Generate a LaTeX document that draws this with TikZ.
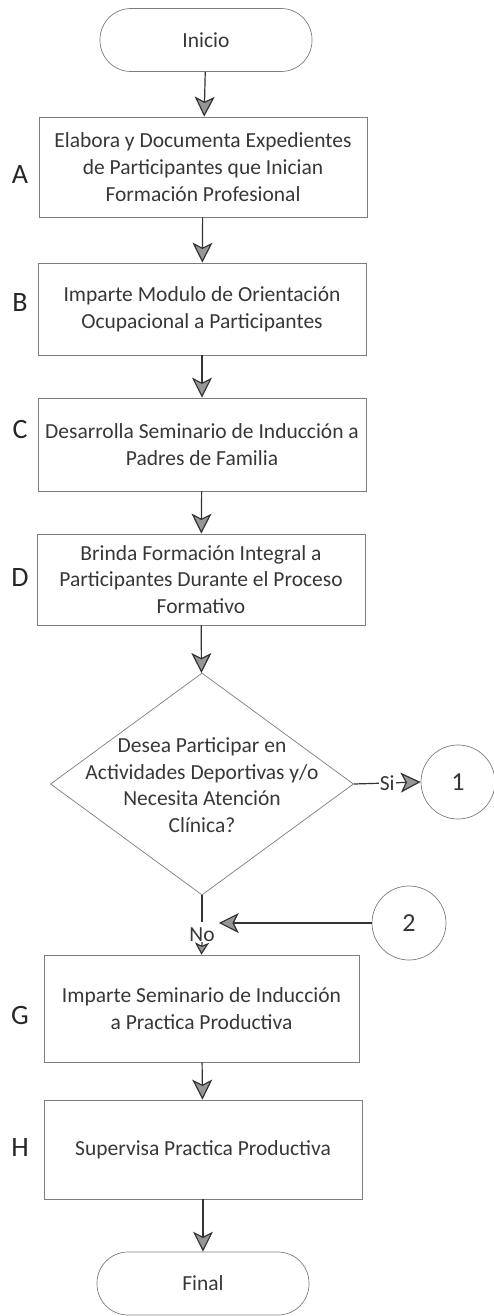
\documentclass[tikz,border=0pt]{standalone}
\usepackage{fontspec}
\setmainfont{Carlito}
\usetikzlibrary{arrows.meta,shapes.geometric}
\definecolor{linegray}{RGB}{125,125,125}
\definecolor{headgray}{RGB}{150,150,150}
\definecolor{txtgray}{RGB}{55,55,55}

\begin{document}
\begin{tikzpicture}[x=1pt,y=-1pt,
        proc/.style={draw=linegray,line width=0.7pt,rectangle,align=center,text=txtgray,font=\fontsize{21.5}{26.7}\selectfont},
        term/.style={draw=linegray,line width=0.7pt,rounded corners=31pt,minimum width=212pt,minimum height=63pt,text=txtgray,font=\fontsize{21.5}{26.7}\selectfont},
        conn/.style={draw=linegray,line width=0.7pt,circle,minimum size=74pt,text=txtgray,font=\fontsize{26}{30}\selectfont},
        flow/.style={-{Stealth[width=20pt,length=20pt,inset=5pt,fill=headgray]},draw=black!80,line width=1.2pt},
        flowshort/.style={-{Stealth[width=14pt,length=12pt,inset=3pt,fill=headgray]},draw=black!80,line width=1.2pt},
        letter/.style={text=black!85,font=\fontsize{28}{30}\selectfont}]
        \useasboundingbox (0,0) rectangle (494,1316);
        \def\fsize{\fontsize{21.5}{26.7}\selectfont}

        \node[term] (inicio) at (206,40) {Inicio};
        \node[proc,minimum width=328pt,minimum height=100pt] (a) at (203,167) {Elabora y Documenta Expedientes\\de Participantes que Inician\\Formación Profesional};
        \node[proc,minimum width=328pt,minimum height=92pt] (b) at (202,309) {Imparte Modulo de Orientación\\Ocupacional a Participantes};
        \node[proc,minimum width=328pt,minimum height=93pt] (c) at (202,444.5) {Desarrolla Seminario de Inducción a\\Padres de Familia};
        \node[proc,minimum width=328pt,minimum height=91pt] (d) at (201,579.5) {Brinda Formación Integral a\\Participantes Durante el Proceso\\Formativo};

        % decision
        \node[draw=linegray,line width=0.7pt,diamond,minimum width=303pt,minimum height=222pt,inner sep=0pt] (dec) at (202,784) {};
        \node[align=center,text=txtgray,font=\fsize] (decq) at (202,785) {Desea Participar en\\Actividades Deportivas y/o\\Necesita Atención\\Clínica?};
        \node[conn] (c1) at (458,782) {1};
        \node[conn] (c2) at (409,923) {2};
        \node[text=txtgray,font=\fsize,inner sep=0pt] (no) at (202,935) {No};

        \node[proc,minimum width=315pt,minimum height=107pt] (g) at (201.5,1008.5) {Imparte Seminario de Inducción\\a Practica Productiva};
        \node[proc,minimum width=318pt,minimum height=99pt] (h) at (203,1149.5) {Supervisa Practica Productiva};
        \node[term] (final) at (203,1283.5) {Final};

        \node[letter] (la) at (20,175) {A};
        \node[letter] (lb) at (20,303) {B};
        \node[letter] (lc) at (20,430) {C};
        \node[letter] (ld) at (20,578) {D};
        \node[letter] (lg) at (20,1015) {G};
        \node[letter] (lh) at (20,1148) {H};

        \draw[flow] (inicio) -- (a);
        \draw[flow] (a) -- (b);
        \draw[flow] (b) -- (c);
        \draw[flow] (c) -- (d);
        \draw[flow] (d) -- (dec);
        \draw[flow] (dec.east) -- node[fill=white,inner sep=1pt,text=txtgray,font=\fsize] (si) {Si} (c1.west);
        \draw[draw=black!80,line width=1.2pt] (dec.south) -- ([yshift=6pt]no.north);
        \draw[flowshort] (no.south) -- (g.north);
        \draw[flow] (c2.west) -- ([xshift=4pt]c2.west -| no.east);
        \draw[flow] (g) -- (h);
        \draw[flow] (h) -- (final);
\end{tikzpicture}
\end{document}
